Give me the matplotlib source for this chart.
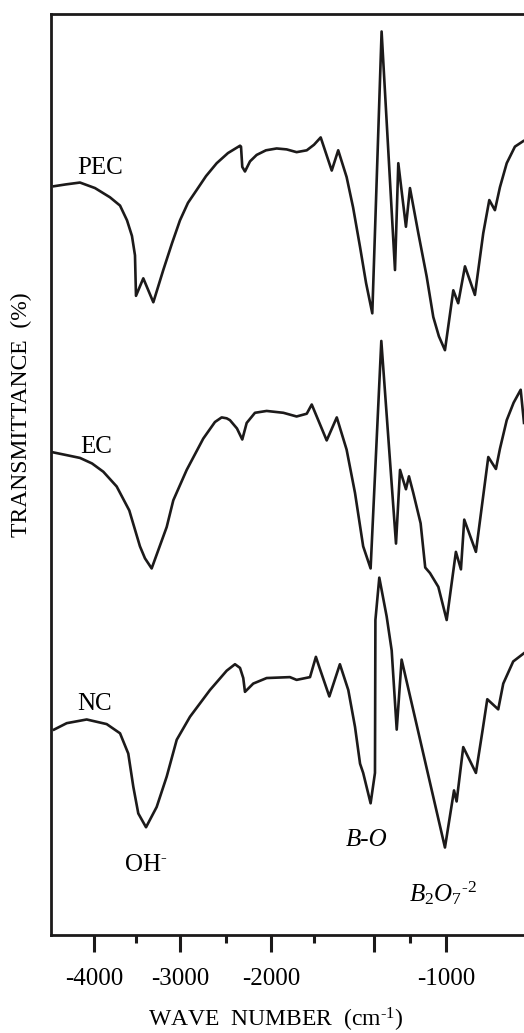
import numpy as np
import matplotlib
matplotlib.use("Agg")
import matplotlib.pyplot as plt

# ---------------- data (wavenumber in cm^-1 shown as negative, transmittance in arbitrary %) -------------
pec_wn = [-4465, -4326, -4163, -3988, -3810, -3690, -3607, -3548, -3512, -3500, -3417, -3303, -3190, -3091,
          -3000, -2913, -2818, -2717, -2601, -2478, -2344, -2333, -2319, -2289, -2233, -2159, -2056,
          -1967, -1909, -1851, -1792, -1750, -1722, -1676, -1649, -1614, -1587, -1558, -1533, -1507,
          -1447, -1354, -1331, -1278, -1250, -1192, -1134, -1088, -1049, -1007, -949, -915, -868,
          -799, -741, -699, -660, -625, -578, -521, -463]
pec_t = [81.3, 81.5, 81.7, 81.1, 80.1, 79.2, 77.6, 75.9, 73.8, 69.4, 71.3, 68.7, 72.2, 75.1,
         77.6, 79.5, 80.9, 82.4, 83.8, 84.9, 85.7, 85.6, 83.4, 82.9, 84.0, 84.7, 85.2,
         85.4, 85.3, 85.0, 85.2, 85.8, 86.6, 83.0, 85.2, 82.3, 79.0, 74.7, 70.8, 67.5,
         98.1, 72.2, 83.8, 76.9, 81.1, 76.2, 71.5, 67.1, 65.0, 63.5, 70.0, 68.6, 72.6,
         69.5, 76.2, 79.8, 78.7, 81.2, 83.8, 85.6, 86.2]

ec_wn = [-4473, -4317, -4163, -4023, -3889, -3730, -3580, -3455, -3398, -3322, -3151, -3076, -2927, -2747,
         -2620, -2547, -2492, -2456, -2378, -2319, -2270, -2178, -2048, -1928, -1851, -1792, -1763, -1697,
         -1655, -1614, -1579, -1545, -1514, -1449, -1347, -1319, -1278, -1257, -1227, -1176, -1144, -1111,
         -1053, -995, -931, -896, -873, -792, -706, -653, -625, -578, -530, -481, -458]
ec_t = [52.4, 52.1, 51.8, 51.2, 50.3, 48.7, 46.1, 42.2, 40.9, 39.8, 44.3, 47.2, 50.5, 53.9,
        55.7, 56.2, 56.1, 55.9, 55.0, 53.8, 55.6, 56.7, 56.9, 56.7, 56.3, 56.6, 57.6, 53.7,
        56.2, 52.7, 48.0, 42.2, 39.8, 64.5, 42.5, 50.5, 48.4, 49.8, 48.0, 44.7, 39.9, 39.3,
        37.8, 34.2, 41.6, 39.7, 45.1, 41.6, 51.9, 50.6, 52.8, 55.9, 57.8, 59.2, 55.6]

nc_wn = [-4465, -4317, -4085, -3849, -3690, -3592, -3532, -3474, -3386, -3265, -3151, -3037, -2891,
         -2674, -2492, -2400, -2344, -2308, -2289, -2197, -2048, -1890, -1851, -1773, -1742, -1728,
         -1686, -1642, -1607, -1579, -1558, -1545, -1514, -1493, -1490, -1463, -1412, -1377, -1342,
         -1308, -1007, -944, -926, -880, -792, -745, -713, -637, -602, -533, -458]
nc_t = [22.3, 23.0, 23.4, 22.9, 21.9, 19.7, 16.1, 13.2, 11.7, 13.9, 17.2, 21.2, 23.7,
        26.6, 28.7, 29.4, 29.0, 27.9, 26.4, 27.3, 27.9, 28.0, 27.7, 28.0, 30.2, 29.1,
        25.9, 29.4, 26.6, 22.6, 18.6, 17.6, 14.3, 17.6, 34.2, 38.8, 34.6, 30.9, 22.3,
        29.9, 9.5, 15.7, 14.5, 20.4, 17.6, 22.3, 25.6, 24.5, 27.3, 29.7, 30.6]

major_ticks = [-4000, -3000, -2000, -1500, -1000]
major_labels = ["-4000", "-3000", "-2000", "", "-1000"]
minor_ticks = [-3500, -2500, -1750, -1250]

# hand-drawn, piecewise-linear wavenumber axis of the original figure
WN_ANCH = [-5000, -4000, -3500, -3000, -2500, -2000, -1750, -1500, -1250, -1000, 0]
POS_ANCH = [8, 94, 136, 180, 226, 271, 314, 374, 410, 446, 590]


def fwd(x):
    return np.interp(x, WN_ANCH, POS_ANCH)


def inv(p):
    return np.interp(p, POS_ANCH, WN_ANCH)


plt.rcParams["font.family"] = ["Liberation Serif", "DejaVu Serif"]
plt.rcParams["mathtext.fontset"] = "custom"
plt.rcParams["mathtext.rm"] = "Liberation Serif"
plt.rcParams["mathtext.it"] = "Liberation Serif:italic"

HY = "\u2010"  # short hyphen used in the superscripts of the original

W, H = 524, 1033
fig = plt.figure(figsize=(W / 100, H / 100), dpi=100)
ax = fig.add_axes([51 / W, 98 / H, 473 / W, 921 / H])
ax.set_xscale("function", functions=(fwd, inv))
ax.set_xlim(-4500, -458)
ax.set_ylim(0, 100)

lc = "#1c1a1a"
for wn, t in ((pec_wn, pec_t), (ec_wn, ec_t), (nc_wn, nc_t)):
    ax.plot(wn, t, color=lc, lw=1.9, solid_joinstyle="round", clip_on=False)

ax.spines["right"].set_visible(False)
for s in ("left", "top", "bottom"):
    ax.spines[s].set_linewidth(2.0)
    ax.spines[s].set_color(lc)

ax.set_yticks([])
ax.set_xticks(major_ticks)
ax.set_xticklabels(major_labels)
ax.set_xticks(minor_ticks, minor=True)
ax.tick_params(axis="x", which="major", direction="out", length=12, width=2.2,
               color=lc, labelsize=18, pad=12)
ax.tick_params(axis="x", which="minor", direction="out", length=6, width=2.2, color=lc)

fs = 18
ax.text(-3929, 83.3, "PEC", fontsize=fs, ha="center", va="center")
ax.text(-3976, 53.0, "EC", fontsize=fs, ha="center", va="center")
ax.text(-3988, 25.1, "NC", fontsize=fs, ha="center", va="center")
ax.text(-3386, 7.6, "OH$^{\\mathrm{" + HY + "}}$", fontsize=fs, ha="center", va="center")
ax.text(-1529, 10.3, "B-O", fontsize=fs, style="italic", ha="center", va="center")
ax.text(-1020, 4.6, "$B_2O_7{}^{\\mathrm{" + HY + "}2}$", fontsize=fs, ha="center", va="center")

fig.text(276 / W, 1 - 1020 / H, "WAVE  NUMBER  (cm$^{\\mathrm{" + HY + "1}}$)", fontsize=17,
         ha="center", va="center")
fig.text(21 / W, 1 - 415 / H, "TRANSMITTANCE  (%)", fontsize=17, rotation=90,
         ha="center", va="center")

fig.savefig("out.png", dpi=100)
